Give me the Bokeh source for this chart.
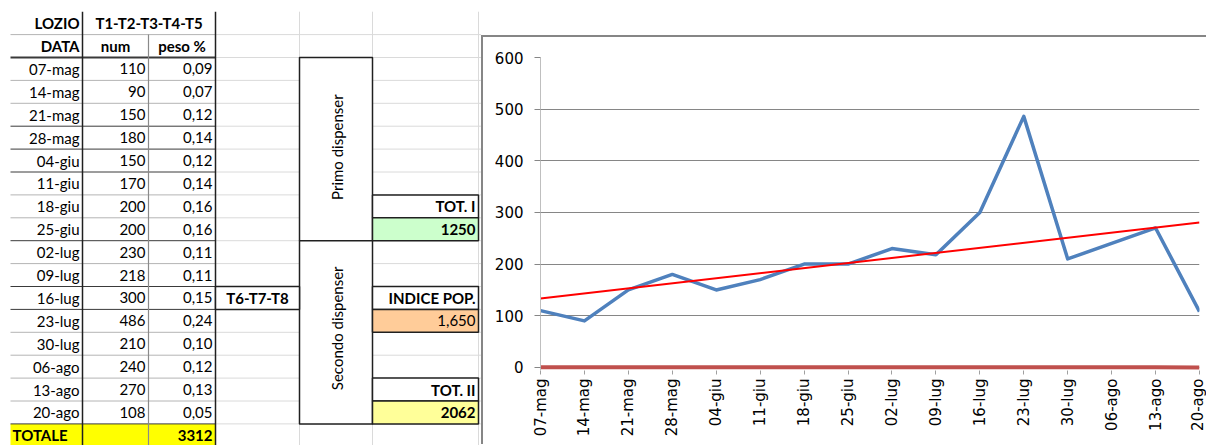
import numpy as np
from bokeh.plotting import figure
from bokeh.models import Range1d, FixedTicker, GridBox, Spacer
from bokeh.embed import file_html
from bokeh.resources import INLINE
from bokeh.core.properties import value

# ---------------- data ----------------
dates = ["07-mag", "14-mag", "21-mag", "28-mag", "04-giu", "11-giu", "18-giu", "25-giu",
         "02-lug", "09-lug", "16-lug", "23-lug", "30-lug", "06-ago", "13-ago", "20-ago"]
num = [110, 90, 150, 180, 150, 170, 200, 200, 230, 218, 300, 486, 210, 240, 270, 108]
peso = [0.09, 0.07, 0.12, 0.14, 0.12, 0.14, 0.16, 0.16, 0.11, 0.11, 0.15, 0.24, 0.10, 0.12, 0.13, 0.05]
peso_text = ["0,09", "0,07", "0,12", "0,14", "0,12", "0,14", "0,16", "0,16",
             "0,11", "0,11", "0,15", "0,24", "0,10", "0,12", "0,13", "0,05"]
y_ticks = [0, 100, 200, 300, 400, 500, 600]
totale_label = "TOTALE"
totale_value = "3312"
tot1_label, tot1_value = "TOT. I", "1250"
indice_label, indice_value = "INDICE POP.", "1,650"
tot2_label, tot2_value = "TOT. II", "2062"

FONT = value("Lato")
FS = "15px"

# ---------------- spreadsheet part (page pixel coordinates) ----------------
ROW0, RH = 11.2, 22.9
def ry(r):
    return ROW0 + r * RH
XA0, XA1, XB1, XC1, XD1, XE1, XF1 = 10, 82, 148, 215, 299, 372, 478
TW, TH = 481, 445

T = figure(width=TW, height=TH, x_range=Range1d(0, TW), y_range=Range1d(TH, 0),
           output_backend="svg", toolbar_location=None, x_axis_type=None, y_axis_type=None,
           min_border=0, min_border_left=0, min_border_right=0, min_border_top=0, min_border_bottom=0)
T.grid.visible = False
T.outline_line_color = None
T.background_fill_color = "white"
T.border_fill_color = "white"

# Excel light gridlines
gx0, gy0, gx1, gy1 = [], [], [], []
for xv in (XD1, XE1, XF1):
    gx0.append(xv); gx1.append(xv); gy0.append(ry(0)); gy1.append(TH)
for b in range(1, 19):
    gx0.append(XC1); gx1.append(TW); gy0.append(ry(b)); gy1.append(ry(b))
T.segment(gx0, gy0, gx1, gy1, line_color="#DADADA", line_width=1)

# TOTALE row fill
T.quad(left=XA0, right=XC1, top=ry(18), bottom=TH, fill_color="#FFFF00", line_color=None)

# table horizontal lines
dark_b = {2, 5, 6, 7, 10, 12, 13, 18}
for b in range(1, 19):
    col = "#3A3A3A" if b in dark_b else "#B4B4B4"
    w = 2 if b == 2 else 1
    T.segment([XA0], [ry(b)], [XC1], [ry(b)], line_color=col, line_width=w)
# table vertical lines
T.segment([XA1], [ry(0)], [XA1], [TH], line_color="#202020", line_width=1.5)
T.segment([XB1], [ry(1)], [XB1], [TH], line_color="#8A8A8A", line_width=1.2)
T.segment([XC1], [ry(0)], [XC1], [TH], line_color="#202020", line_width=1.5)

# boxes
T.quad(left=[XD1, XD1], right=[XE1, XE1], top=[ry(2), ry(10)], bottom=[ry(10), ry(18)],
       fill_color="white", line_color="#202020", line_width=1.5)
T.quad(left=XC1, right=XD1, top=ry(12), bottom=ry(13), fill_color="white",
       line_color="#202020", line_width=1.5)
T.quad(left=[XE1] * 6, right=[XF1] * 6,
       top=[ry(8), ry(9), ry(12), ry(13), ry(16), ry(17)],
       bottom=[ry(9), ry(10), ry(13), ry(14), ry(17), ry(18)],
       fill_color=["white", "#CCFFCC", "white", "#FFCC99", "white", "#FFFF99"],
       line_color="#202020", line_width=1.5)

def mid(r):
    return ry(r) + RH / 2

def txt(xs, ys, texts, align, bold=False, color="black", angle=0):
    T.text(x=xs, y=ys, text=texts, text_align=align, text_baseline="middle",
           text_font=FONT, text_font_size=FS, text_font_style="bold" if bold else "normal",
           text_color=color, angle=angle)

rows = [mid(i + 2) for i in range(len(dates))]
txt([79] * len(dates), rows, dates, "right")
txt([145] * len(num), rows, [str(v) for v in num], "right")
txt([212] * len(peso_text), rows, peso_text, "right")
txt([79, 79], [mid(0), mid(1)], ["LOZIO", "DATA"], "right", bold=True)
txt([(XA1 + XC1) / 2, (XA1 + XB1) / 2, (XB1 + XC1) / 2], [mid(0), mid(1), mid(1)],
    ["T1-T2-T3-T4-T5", "num", "peso %"], "center", bold=True)
txt([12], [mid(18)], [totale_label], "left", bold=True)
txt([212], [mid(18)], [totale_value], "right", bold=True)
txt([(XC1 + XD1) / 2], [mid(12)], ["T6-T7-T8"], "center", bold=True)
txt([475] * 5, [mid(8), mid(9), mid(12), mid(16), mid(17)],
    [tot1_label, tot1_value, indice_label, tot2_label, tot2_value], "right", bold=True)
txt([475], [mid(13)], [indice_value], "right")
txt([(XD1 + XE1) / 2 + 1, (XD1 + XE1) / 2 + 1], [(ry(2) + ry(10)) / 2 - 2, (ry(10) + ry(18)) / 2 - 4],
    ["Primo dispenser", "Secondo dispenser"], "center", angle=np.pi / 2)

# ---------------- chart part ----------------
CTOP = 35
x = np.arange(len(num))
C = figure(width=1206 - TW, height=TH - CTOP - 1, x_range=Range1d(0, len(num) - 1),
           y_range=Range1d(-6, 600), output_backend="svg", toolbar_location=None,
           min_border_left=59, min_border_right=7, min_border_top=22, min_border_bottom=74)
C.background_fill_color = "white"
C.border_fill_color = None
C.outline_line_color = None
C.styles = {"box-shadow": "inset 2px 2px 0 0 #868686", "background-color": "white"}

C.xgrid.visible = False
C.ygrid.ticker = FixedTicker(ticks=y_ticks)
C.ygrid.grid_line_color = "#868686"
C.ygrid.grid_line_width = 1

C.yaxis.ticker = FixedTicker(ticks=y_ticks)
C.yaxis.axis_line_color = "#BFBFBF"
C.yaxis.major_tick_line_color = "#868686"
C.yaxis.major_tick_out = 6
C.yaxis.major_tick_in = 0
C.yaxis.minor_tick_line_color = None
C.yaxis.major_label_standoff = 11
C.yaxis.major_label_text_font = "DejaVu Sans"
C.yaxis.major_label_text_font_size = "15px"
C.yaxis.major_label_text_color = "black"

C.xaxis.ticker = FixedTicker(ticks=list(x))
C.xaxis.major_label_overrides = {int(i): d for i, d in zip(x, dates)}
C.xaxis.major_label_orientation = np.pi / 2
C.xaxis.axis_line_color = None
C.xaxis.major_tick_line_color = "#A0A0A0"
C.xaxis.major_tick_out = 4
C.xaxis.major_tick_in = 0
C.xaxis.minor_tick_line_color = None
C.xaxis.major_label_standoff = 4
C.xaxis.major_label_text_font = "DejaVu Sans"
C.xaxis.major_label_text_font_size = "15px"
C.xaxis.major_label_text_color = "black"

C.line(x, peso, line_color="#C0504D", line_width=4)
C.line(x, num, line_color="#4F81BD", line_width=3.5, line_join="round")
slope, intercept = np.polyfit(x, num, 1)
xe = np.array([x[0], x[-1]])
C.line(xe, intercept + slope * xe, line_color="#FF0000", line_width=2)

layout = GridBox(children=[
    (T, 0, 0, 3, 1),
    (Spacer(width=1206 - TW, height=CTOP), 0, 1),
    (C, 1, 1),
    (Spacer(width=1206 - TW, height=1), 2, 1),
], spacing=0)
open("out.html", "w").write(file_html(layout, INLINE))
